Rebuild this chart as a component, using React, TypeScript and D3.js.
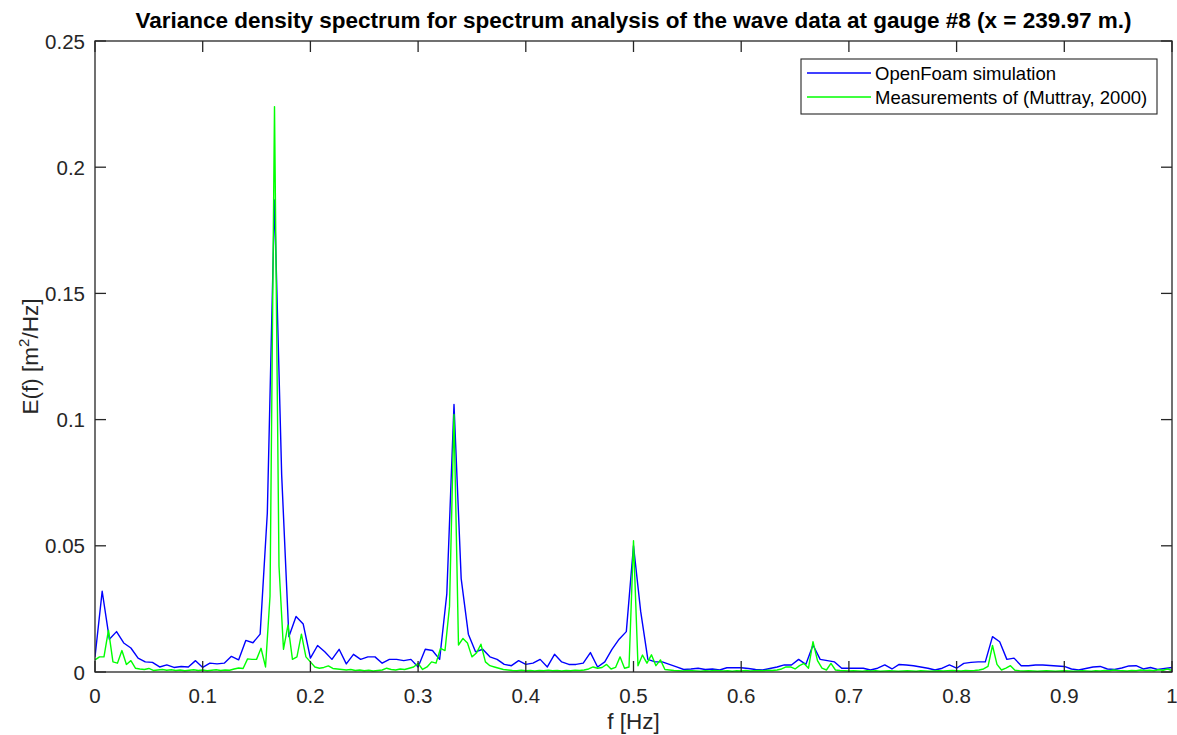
import React from "react";
import * as d3 from "d3";

// Variance density spectrum at gauge #8: simulated vs measured
const title =
  "Variance density spectrum for spectrum analysis of the wave data at gauge #8 (x = 239.97 m.)";
const xTicks = [0, 0.1, 0.2, 0.3, 0.4, 0.5, 0.6, 0.7, 0.8, 0.9, 1];
const yTicks = [0, 0.05, 0.1, 0.15, 0.2, 0.25];
const yTickLabels = ["0", "0.05", "0.1", "0.15", "0.2", "0.25"];
const seriesNames = ["OpenFoam simulation", "Measurements of (Muttray, 2000)"];

// OpenFoam spectrum, frequency step 1/150 Hz, f = 0 … 1 Hz
const openFoamStep = 1 / 150;
const openFoamE = [
  0.006, 0.032, 0.013, 0.016, 0.0115, 0.0095, 0.0055, 0.004, 0.0038, 0.002,
  0.0028, 0.0018, 0.0022, 0.002, 0.0045, 0.0018, 0.0035, 0.0032, 0.0035, 0.0062,
  0.0048, 0.0125, 0.0116, 0.015, 0.063, 0.187, 0.078, 0.014, 0.022, 0.019,
  0.0055, 0.0105, 0.008, 0.005, 0.009, 0.0032, 0.007, 0.005, 0.006, 0.006,
  0.0035, 0.005, 0.005, 0.0045, 0.005, 0.002, 0.009, 0.0085, 0.005, 0.031,
  0.106, 0.037, 0.015, 0.008, 0.009, 0.006, 0.005, 0.003, 0.0025, 0.0045,
  0.003, 0.0035, 0.005, 0.002, 0.007, 0.004, 0.003, 0.003, 0.0035, 0.0077,
  0.002, 0.004, 0.009, 0.013, 0.016, 0.05, 0.024, 0.005, 0.004, 0.004,
  0.003, 0.002, 0.001, 0.0012, 0.0015, 0.001, 0.0012, 0.0008, 0.0017, 0.0017,
  0.0017, 0.0014, 0.001, 0.0008, 0.0014, 0.002, 0.0028, 0.0028, 0.005, 0.003,
  0.0107, 0.005, 0.0045, 0.004, 0.0015, 0.0015, 0.0015, 0.0015, 0.0008, 0.0015,
  0.0028, 0.0012, 0.003, 0.0028, 0.0025, 0.002, 0.0015, 0.0008, 0.0015, 0.0028,
  0.0015, 0.0034, 0.0038, 0.004, 0.004, 0.014, 0.012, 0.005, 0.0055, 0.0025,
  0.0025, 0.0028, 0.0028, 0.0026, 0.0024, 0.0022, 0.0012, 0.0008, 0.0014, 0.002,
  0.0022, 0.0012, 0.001, 0.0016, 0.0024, 0.0025, 0.0012, 0.0018, 0.001, 0.0014,
  0.0018,
];

// Measured spectrum, frequency step 1/240 Hz, f = 0 … 1 Hz
const measuredStep = 1 / 240;
const measuredE = [
  0.0048, 0.006, 0.006, 0.0166, 0.004, 0.0035, 0.0085, 0.003, 0.0045, 0.0015,
  0.0012, 0.001, 0.0014, 0.0006, 0.0008, 0.001, 0.0007, 0.0009, 0.0006, 0.0008,
  0.0005, 0.0007, 0.0009, 0.0006, 0.0008, 0.0005, 0.0007, 0.0009, 0.0006, 0.0008,
  0.0007, 0.0012, 0.0016, 0.0014, 0.0052, 0.005, 0.005, 0.0094, 0.002, 0.03,
  0.224, 0.042, 0.009, 0.0186, 0.005, 0.006, 0.015, 0.006, 0.004, 0.002,
  0.0015, 0.0018, 0.0024, 0.0014, 0.0012, 0.001, 0.0008, 0.001, 0.0006, 0.0008,
  0.0005, 0.0007, 0.0004, 0.0006, 0.0008, 0.0015, 0.001, 0.0008, 0.0012, 0.001,
  0.0015, 0.002, 0.0034, 0.001, 0.002, 0.004, 0.0035, 0.0094, 0.0085, 0.026,
  0.102, 0.0107, 0.0133, 0.0115, 0.006, 0.0075, 0.011, 0.004, 0.0025, 0.002,
  0.0015, 0.001, 0.0008, 0.0006, 0.0005, 0.0007, 0.0005, 0.0006, 0.0004, 0.0006,
  0.0005, 0.0007, 0.0005, 0.0006, 0.0004, 0.0006, 0.0005, 0.0007, 0.0006, 0.0008,
  0.0012, 0.002, 0.0015, 0.0018, 0.003, 0.0012, 0.0018, 0.006, 0.0015, 0.002,
  0.052, 0.0025, 0.0067, 0.0035, 0.0068, 0.0025, 0.0048, 0.001, 0.0008, 0.0006,
  0.0005, 0.0004, 0.0006, 0.0005, 0.0004, 0.0003, 0.0005, 0.0004, 0.0006, 0.0005,
  0.0004, 0.0005, 0.0003, 0.0005, 0.0004, 0.0006, 0.0004, 0.0005, 0.0006, 0.0005,
  0.0007, 0.0006, 0.0008, 0.0012, 0.002, 0.002, 0.0012, 0.0025, 0.0034, 0.0015,
  0.012, 0.0045, 0.0015, 0.0008, 0.0034, 0.0008, 0.0006, 0.0005, 0.0004, 0.0005,
  0.0004, 0.0003, 0.0005, 0.0004, 0.0005, 0.0003, 0.0004, 0.0005, 0.0004, 0.0003,
  0.0004, 0.0005, 0.0004, 0.0003, 0.0005, 0.0004, 0.0003, 0.0004, 0.0005, 0.0004,
  0.0005, 0.0006, 0.0005, 0.0004, 0.0006, 0.0005, 0.0006, 0.0008, 0.0012, 0.0022,
  0.0105, 0.003, 0.0008, 0.0015, 0.0025, 0.0007, 0.0005, 0.0004, 0.0005, 0.0004,
  0.0003, 0.0004, 0.0005, 0.0004, 0.0003, 0.0004, 0.0005, 0.0004, 0.0003, 0.0004,
  0.0005, 0.0004, 0.0003, 0.0005, 0.0004, 0.0006, 0.0005, 0.0008, 0.0006, 0.0005,
  0.0004, 0.0006, 0.0005, 0.0008, 0.0006, 0.0007, 0.0005, 0.0009, 0.0007, 0.0012,
  0.0006,
];

const W = 1177;
const H = 735;
const plot = { left: 95, right: 1172, top: 41, bottom: 672 };
const axisColor = "#262626";
const font = "'Liberation Sans', Arial, Helvetica, sans-serif";
const tickLen = 11;

export default function App() {
  const x = d3.scaleLinear().domain([0, 1]).range([plot.left, plot.right]);
  const y = d3.scaleLinear().domain([0, 0.25]).range([plot.bottom, plot.top]);

  const line = d3
    .line<[number, number]>()
    .x((d) => x(d[0]))
    .y((d) => y(d[1]));

  const openFoamPts = openFoamE.map((v, i) => [i * openFoamStep, v] as [number, number]);
  const measuredPts = measuredE.map((v, i) => [i * measuredStep, v] as [number, number]);

  const cx = (plot.left + plot.right) / 2;

  return (
    <svg
      width={W}
      height={H}
      style={{ position: "absolute", left: 0, top: 0, background: "#fff" }}
      fontFamily={font}
    >
      <rect x={0} y={0} width={W} height={H} fill="#fff" />

      <defs>
        <clipPath id="plotClip">
          <rect x={plot.left} y={plot.top - 2} width={plot.right - plot.left} height={plot.bottom - plot.top + 2} />
        </clipPath>
      </defs>

      {/* spectra */}
      <g clipPath="url(#plotClip)">
        <path d={line(openFoamPts) ?? ""} fill="none" stroke="#0000ff" strokeWidth={1.4} strokeLinejoin="round" />
        <path d={line(measuredPts) ?? ""} fill="none" stroke="#00ff00" strokeWidth={1.4} strokeLinejoin="round" />
      </g>

      {/* axes box */}
      <rect
        x={plot.left}
        y={plot.top}
        width={plot.right - plot.left}
        height={plot.bottom - plot.top}
        fill="none"
        stroke={axisColor}
        strokeWidth={1.3}
      />

      {/* x ticks */}
      {xTicks.map((t) => (
        <g key={"xt" + t}>
          <line x1={x(t)} x2={x(t)} y1={plot.bottom} y2={plot.bottom - tickLen} stroke={axisColor} strokeWidth={1.3} />
          <line x1={x(t)} x2={x(t)} y1={plot.top} y2={plot.top + tickLen} stroke={axisColor} strokeWidth={1.3} />
          <text x={x(t)} y={plot.bottom + 31} textAnchor="middle" fontSize={20.5} fill={axisColor}>
            {String(t)}
          </text>
        </g>
      ))}

      {/* y ticks */}
      {yTicks.map((t, i) => (
        <g key={"yt" + t}>
          <line x1={plot.left} x2={plot.left + tickLen} y1={y(t)} y2={y(t)} stroke={axisColor} strokeWidth={1.3} />
          <line x1={plot.right} x2={plot.right - tickLen} y1={y(t)} y2={y(t)} stroke={axisColor} strokeWidth={1.3} />
          <text x={plot.left - 10} y={y(t) + 7.5} textAnchor="end" fontSize={20.5} fill={axisColor}>
            {yTickLabels[i]}
          </text>
        </g>
      ))}

      {/* title and axis labels */}
      <text x={cx} y={28} textAnchor="middle" fontSize={22.5} fontWeight="bold" fill="#000">
        {title}
      </text>
      <text x={cx} y={729} textAnchor="middle" fontSize={22.5} fill={axisColor}>
        f [Hz]
      </text>
      <text
        transform={`translate(38, ${(plot.top + plot.bottom) / 2}) rotate(-90)`}
        textAnchor="middle"
        fontSize={22.5}
        fill={axisColor}
      >
        E(f) [m<tspan dy={-9} fontSize={15}>2</tspan>
        <tspan dy={9}>/Hz]</tspan>
      </text>

      {/* legend */}
      <g>
        <rect x={801} y={59} width={356} height={55} fill="#fff" stroke={axisColor} strokeWidth={1.1} />
        <line x1={807} x2={871} y1={73} y2={73} stroke="#0000ff" strokeWidth={1.4} />
        <line x1={807} x2={871} y1={97} y2={97} stroke="#00ff00" strokeWidth={1.4} />
        <text x={875} y={79.5} fontSize={18.5} fill="#000">
          {seriesNames[0]}
        </text>
        <text x={875} y={103.5} fontSize={18.5} fill="#000">
          {seriesNames[1]}
        </text>
      </g>
    </svg>
  );
}
